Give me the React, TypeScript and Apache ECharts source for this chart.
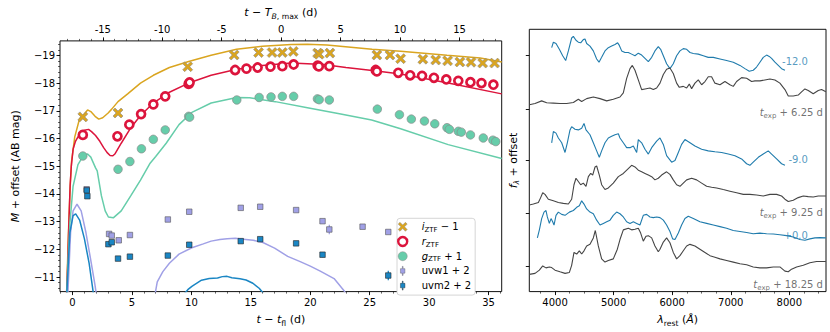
import React, { useEffect, useRef } from "react";
import * as echarts from "echarts";

const FONT = "DejaVu Sans";

// ---------- Left panel: light curves (t - t_fl [d], M + offset [AB mag]) ----------
const T_BMAX_OFFSET = 17.55; // t_fl -> T_B,max shift (d)

const iTime = [0.87, 3.83, 9.69, 13.6, 15.65, 16.79, 17.65, 18.57, 20.62, 20.75, 21.65, 25.6, 26.7, 27.6, 29.47, 30.55, 31.55, 32.58, 33.52, 34.5, 35.5];
const iMag = [-16.78, -16.92, -18.59, -19.01, -19.1, -19.1, -19.1, -19.14, -19.08, -19.04, -19.08, -19.01, -19.01, -18.88, -18.86, -18.83, -18.8, -18.76, -18.75, -18.72, -18.72];

const rTime = [0.87, 3.78, 4.78, 5.77, 6.8, 7.8, 9.77, 9.85, 13.68, 14.63, 15.57, 16.65, 17.65, 18.6, 20.62, 20.72, 21.6, 25.5, 25.6, 27.4, 28.4, 29.4, 30.4, 31.44, 32.45, 33.47, 34.4, 35.4];
const rMag = [-16.13, -16.08, -16.5, -16.88, -17.23, -17.52, -17.97, -18.02, -18.47, -18.52, -18.56, -18.59, -18.61, -18.67, -18.63, -18.6, -18.61, -18.47, -18.42, -18.37, -18.28, -18.26, -18.19, -18.13, -18.08, -18.03, -18.0, -17.94];

const gTime = [0.87, 3.83, 4.83, 5.8, 6.8, 7.8, 9.77, 9.85, 13.82, 15.7, 16.7, 17.65, 18.6, 20.6, 20.75, 21.6, 25.64, 27.5, 28.5, 29.6, 30.47, 31.5, 31.7, 32.45, 32.7, 33.47, 34.55, 35.36, 35.6];
const gMag = [-15.37, -14.89, -15.17, -15.63, -15.97, -16.31, -16.8, -16.77, -17.39, -17.48, -17.5, -17.52, -17.52, -17.43, -17.4, -17.39, -17.06, -16.86, -16.7, -16.63, -16.53, -16.39, -16.33, -16.26, -16.23, -16.13, -16.02, -15.94, -15.89];

const uvw1Time = [1.19, 3.08, 3.3, 3.89, 4.83, 8.02, 9.82, 14.15, 15.79, 18.81, 21.03, 21.6, 24.4, 26.56];
const uvw1Mag = [-14.17, -12.56, -12.5, -12.33, -12.52, -13.08, -13.36, -13.5, -13.54, -13.42, -13.02, -12.72, -12.82, -12.63];
const uvw1Err = [0.05, 0.08, 0.06, 0.05, 0.05, 0.05, 0.05, 0.05, 0.05, 0.05, 0.07, 0.17, 0.06, 0.06];

const uvm2Time = [1.2, 1.25, 3.02, 3.3, 3.83, 4.83, 8.02, 9.82, 14.15, 15.79, 18.81, 21.03, 26.56];
const uvm2Mag = [-14.13, -13.92, -12.19, -12.26, -11.67, -11.74, -11.78, -12.17, -12.3, -12.37, -12.22, -11.81, -11.06];
const uvm2Err = [0.06, 0.06, 0.08, 0.07, 0.08, 0.08, 0.08, 0.06, 0.06, 0.05, 0.08, 0.09, 0.17];

// model light curves
const iModel = [[-0.5, -10.3], [-0.35, -12.5], [-0.2, -14.2], [-0.08, -15.17], [0.19, -16.06], [0.6, -16.72], [1.0, -16.89], [1.27, -17.03], [1.54, -16.97], [1.9, -16.8], [2.21, -16.7], [2.54, -16.75], [3.0, -16.92], [3.3, -17.06], [3.83, -17.33], [4.64, -17.61], [5.72, -18.0], [6.8, -18.28], [8.15, -18.56], [9.77, -18.78], [11.66, -19.0], [13.8, -19.22], [15.97, -19.33], [18.4, -19.39], [19.76, -19.4], [21.4, -19.37], [25.2, -19.22], [27.6, -19.15], [31.5, -19.0], [34.3, -18.9], [36.1, -18.76]];
const rModel = [[-0.5, -10.4], [-0.4, -11.5], [-0.3, -13.0], [-0.2, -14.3], [-0.1, -15.0], [0.05, -15.61], [0.25, -15.9], [0.46, -16.06], [0.75, -16.22], [1.0, -16.3], [1.35, -16.33], [1.6, -16.25], [1.94, -16.11], [2.3, -15.9], [2.62, -15.67], [2.9, -15.5], [3.16, -15.39], [3.4, -15.38], [3.56, -15.44], [4.1, -15.83], [4.91, -16.39], [5.72, -16.83], [6.8, -17.28], [8.15, -17.67], [9.77, -18.0], [11.66, -18.28], [13.82, -18.5], [15.97, -18.63], [18.4, -18.72], [21.1, -18.67], [23.0, -18.56], [25.4, -18.44], [27.6, -18.33], [31.6, -18.0], [36.1, -17.61]];
const gModel = [[-0.5, -10.3], [-0.35, -11.8], [-0.22, -12.94], [0.05, -14.28], [0.46, -15.06], [0.8, -15.3], [1.1, -15.42], [1.27, -15.44], [1.54, -15.33], [1.94, -14.94], [2.08, -14.83], [2.43, -13.94], [2.75, -13.39], [3.02, -13.17], [3.43, -13.14], [4.1, -13.39], [4.91, -13.94], [5.72, -14.5], [6.53, -15.11], [7.0, -15.35], [7.88, -15.83], [8.96, -16.5], [10.04, -16.94], [11.66, -17.28], [13.82, -17.48], [14.9, -17.47], [17.06, -17.33], [19.76, -17.11], [22.45, -16.89], [25.16, -16.67], [27.6, -16.35], [31.6, -15.78], [36.1, -15.28]];
const uvw1ModelEarly = [[-0.4, -10.3], [-0.16, -12.61], [0.05, -13.39], [0.38, -13.63], [0.73, -13.39], [1.13, -12.61], [1.54, -11.61], [1.89, -10.72], [2.0, -10.4]];
const uvw1ModelLate = [[6.95, -10.4], [7.13, -10.83], [7.6, -11.2], [8.15, -11.5], [8.96, -11.83], [10.04, -12.06], [11.0, -12.2], [11.66, -12.3], [12.4, -12.36], [13.0, -12.39], [13.7, -12.4], [14.36, -12.37], [15.2, -12.33], [15.97, -12.26], [17.0, -12.05], [18.1, -11.75], [19.2, -11.55], [20.0, -11.4], [20.84, -11.22], [22.0, -10.95], [22.86, -10.5], [23.0, -10.4]];
const uvm2ModelEarly = [[-0.49, -10.3], [-0.22, -12.61], [0.05, -13.22], [0.27, -13.28], [0.6, -13.06], [1.0, -12.39], [1.4, -11.5], [1.73, -10.5], [1.78, -10.3]];
const uvm2ModelLate = [[9.4, -10.4], [9.7, -10.55], [10.04, -10.67], [10.85, -10.89], [11.5, -10.95], [12.2, -10.97], [12.6, -11.02], [13.0, -11.03], [13.4, -10.98], [14.09, -10.94], [14.6, -10.9], [15.17, -10.78], [15.7, -10.6], [16.1, -10.4]];

// ---------- Right panel: spectra (rest wavelength [A], f_lambda + offset, arbitrary units) ----------
const specM12 = [[3943, 755], [3972, 772], [4017, 768], [4074, 750], [4131, 730], [4182, 715], [4228, 745], [4284, 785], [4313, 790], [4358, 778], [4398, 772], [4438, 770], [4483, 780], [4512, 782], [4540, 768], [4597, 760], [4654, 745], [4711, 720], [4751, 710], [4796, 725], [4853, 745], [4910, 755], [4967, 760], [5024, 765], [5069, 770], [5098, 762], [5138, 745], [5194, 740], [5251, 740], [5308, 735], [5365, 730], [5422, 738], [5479, 732], [5536, 722], [5593, 712], [5650, 725], [5706, 745], [5763, 758], [5803, 750], [5849, 730], [5905, 705], [5962, 690], [6019, 705], [6076, 730], [6133, 745], [6190, 752], [6247, 750], [6304, 740], [6361, 737], [6446, 735], [6531, 730], [6616, 725], [6702, 725], [6816, 720], [6929, 715], [7043, 710], [7157, 700], [7242, 690], [7316, 682], [7384, 685], [7441, 695], [7498, 710], [7555, 725], [7612, 732], [7657, 728], [7697, 722], [7754, 710], [7811, 700], [7868, 690], [7925, 685]];
const specP625 = [[3562, 578], [3659, 582], [3772, 590], [3858, 584], [3972, 583], [4085, 582], [4199, 582], [4313, 585], [4398, 595], [4455, 588], [4540, 597], [4654, 602], [4768, 597], [4882, 590], [4995, 595], [5109, 602], [5166, 615], [5223, 660], [5280, 690], [5320, 700], [5365, 685], [5422, 655], [5479, 625], [5536, 627], [5621, 630], [5678, 625], [5735, 630], [5792, 645], [5849, 672], [5905, 688], [5962, 692], [6019, 675], [6076, 645], [6122, 632], [6190, 635], [6247, 630], [6292, 642], [6332, 628], [6389, 645], [6446, 655], [6503, 640], [6560, 650], [6616, 665], [6673, 665], [6730, 645], [6816, 640], [6901, 650], [6986, 640], [7043, 635], [7100, 650], [7185, 662], [7271, 660], [7356, 650], [7413, 652], [7498, 652], [7583, 655], [7669, 658], [7754, 655], [7839, 645], [7925, 625], [7982, 605], [8067, 605], [8152, 608], [8209, 618], [8266, 627], [8323, 622], [8408, 612], [8494, 622], [8550, 625], [8624, 618]];
const specM9 = [[3943, 460], [3972, 495], [4017, 490], [4057, 475], [4114, 460], [4171, 430], [4210, 460], [4256, 500], [4284, 510], [4341, 502], [4398, 500], [4455, 505], [4495, 520], [4529, 500], [4597, 485], [4654, 460], [4711, 435], [4756, 415], [4796, 435], [4853, 460], [4910, 475], [4967, 480], [5024, 485], [5081, 488], [5109, 475], [5166, 460], [5223, 445], [5280, 445], [5337, 450], [5394, 430], [5422, 470], [5479, 460], [5536, 440], [5593, 425], [5650, 445], [5735, 465], [5792, 475], [5849, 455], [5905, 420], [5991, 400], [6048, 405], [6105, 430], [6161, 455], [6218, 470], [6304, 460], [6389, 450], [6503, 440], [6616, 435], [6730, 432], [6844, 430], [6958, 425], [7072, 420], [7185, 410], [7271, 395], [7327, 390], [7384, 400], [7470, 415], [7555, 425], [7640, 435], [7697, 425], [7783, 410], [7868, 395], [7925, 390]];
const specP925 = [[3562, 267], [3630, 270], [3716, 275], [3755, 290], [3790, 305], [3829, 300], [3886, 285], [3972, 280], [4057, 275], [4142, 272], [4228, 270], [4284, 285], [4324, 330], [4358, 350], [4398, 340], [4438, 330], [4483, 335], [4529, 325], [4569, 355], [4609, 365], [4643, 360], [4683, 385], [4711, 388], [4756, 360], [4796, 330], [4853, 315], [4910, 320], [4995, 335], [5081, 355], [5166, 365], [5251, 380], [5308, 390], [5365, 385], [5422, 375], [5479, 370], [5536, 365], [5593, 360], [5650, 355], [5706, 345], [5763, 350], [5820, 360], [5905, 370], [5962, 362], [6019, 345], [6076, 330], [6133, 325], [6190, 335], [6247, 345], [6332, 350], [6417, 345], [6503, 335], [6588, 325], [6673, 322], [6759, 320], [6872, 315], [6986, 310], [7100, 305], [7214, 300], [7327, 300], [7441, 298], [7555, 295], [7669, 300], [7783, 300], [7868, 295], [7925, 285], [7982, 278], [8067, 282], [8152, 290], [8238, 295], [8323, 293], [8408, 292], [8494, 295], [8624, 295]];
const specP0 = [[3699, 165], [3733, 190], [3772, 225], [3812, 245], [3846, 250], [3869, 230], [3903, 210], [3932, 225], [3960, 215], [3983, 205], [4017, 235], [4057, 245], [4114, 238], [4171, 235], [4245, 245], [4313, 250], [4370, 260], [4415, 265], [4455, 280], [4495, 270], [4540, 255], [4597, 245], [4654, 240], [4711, 220], [4768, 205], [4825, 210], [4882, 215], [4939, 220], [4995, 235], [5052, 245], [5109, 240], [5166, 230], [5223, 215], [5280, 210], [5337, 215], [5394, 210], [5450, 205], [5507, 235], [5564, 238], [5621, 230], [5678, 228], [5735, 230], [5792, 228], [5849, 220], [5905, 205], [5962, 185], [6008, 162], [6048, 160], [6105, 180], [6161, 205], [6218, 225], [6275, 232], [6361, 225], [6474, 215], [6588, 210], [6702, 205], [6816, 200], [6929, 195], [7043, 188], [7157, 185], [7271, 182], [7384, 178], [7498, 180], [7612, 178], [7726, 177], [7839, 175], [7953, 172], [8067, 168], [8181, 160], [8266, 158], [8351, 162], [8437, 165], [8522, 166], [8624, 165]];
const specP1825 = [[3562, 52], [3659, 55], [3733, 65], [3790, 78], [3846, 72], [3903, 75], [3943, 73], [4000, 65], [4085, 60], [4171, 55], [4245, 58], [4284, 80], [4324, 120], [4370, 115], [4415, 125], [4455, 115], [4495, 125], [4540, 140], [4597, 145], [4654, 165], [4688, 188], [4739, 140], [4796, 100], [4853, 90], [4910, 95], [4995, 100], [5064, 130], [5109, 160], [5166, 190], [5251, 195], [5308, 190], [5365, 192], [5422, 195], [5462, 180], [5507, 155], [5553, 170], [5593, 172], [5650, 165], [5706, 140], [5763, 122], [5792, 130], [5849, 152], [5905, 165], [5962, 150], [6019, 120], [6076, 100], [6133, 110], [6190, 125], [6247, 140], [6304, 145], [6389, 140], [6474, 130], [6560, 120], [6645, 110], [6730, 105], [6816, 100], [6929, 95], [7043, 90], [7157, 85], [7271, 82], [7384, 75], [7498, 72], [7612, 72], [7726, 75], [7839, 75], [7925, 62], [7982, 60], [8038, 68], [8124, 75], [8238, 80], [8351, 88], [8465, 92], [8624, 92]];

const specLabelText = ["-12.0", "{it|t}{sub|exp}{n| + 6.25 d}", "-9.0", "{it|t}{sub|exp}{n| + 9.25 d}", "+0.0", "{it|t}{sub|exp}{n| + 18.25 d}"];
const specLabelWave = [8317, 8573, 8317, 8573, 8317, 8573];
const specLabelFlux = [718, 561, 414, 250, 180, 28];

// ---------- Tick values ----------
const tflTicks = [0, 5, 10, 15, 20, 25, 30, 35];
const tBmaxTicks = [-15, -10, -5, 0, 5, 10, 15];
const magTicks = [-19, -18, -17, -16, -15, -14, -13, -12, -11];
const waveTicks = [4000, 5000, 6000, 7000, 8000];
const fluxTicks = [78, 240, 405, 565, 732];

// ---------- Colors ----------
const C_I = "#DAA520";
const C_R = "#DC143C";
const C_G = "#66CDAA";
const C_W1 = "#A0A0E6";
const C_M2 = "#1A86C4";
const C_SPEC_BLUE = "#1f7bac";
const C_SPEC_GREY = "#454545";

const X_PATH = "path://M0,2L2,0L5,3L8,0L10,2L7,5L10,8L8,10L5,7L2,10L0,8L3,5Z";
const UV_PATH = "path://M5.4,0H6.6V3.5H9.5V10.5H6.6V14H5.4V10.5H2.5V3.5H5.4Z";

function steps(from: number, to: number, step: number) {
  const out: number[] = [];
  for (let k = 0; from + k * step <= to + 1e-9; k++) out.push(+(from + k * step).toFixed(4));
  return out;
}

const richBase = (size: number, color: string) => ({
  it: { fontStyle: "italic", fontFamily: FONT, fontSize: size, color },
  n: { fontFamily: FONT, fontSize: size, color },
  sub: { fontFamily: FONT, fontSize: size * 0.7, color, verticalAlign: "bottom", lineHeight: 10 },
  subit: { fontFamily: FONT, fontSize: size * 0.7, color, fontStyle: "italic", verticalAlign: "bottom", lineHeight: 10 },
});

const nameStyle = { fontFamily: FONT, fontSize: 11, color: "#000", lineHeight: 15, rich: richBase(11, "#000") };
const tickLabel = { fontFamily: FONT, fontSize: 10, color: "#000" };
const majorTick = (vals: number[]) => ({ show: true, customValues: vals, length: 3.5, lineStyle: { color: "#000", width: 0.9 } });
const minorTick = (vals: number[]) => ({ show: true, customValues: vals, length: 2, lineStyle: { color: "#000", width: 0.6 } });
const noLine = { show: false, onZero: false };

function errorBarSeries(time: number[], mag: number[], err: number[], color: string) {
  return {
    type: "custom",
    xAxisIndex: 0,
    yAxisIndex: 0,
    silent: true,
    z: 3,
    data: time.map((t, k) => [t, mag[k], err[k]]),
    renderItem: (_p: any, api: any) => {
      const t = api.value(0), m = api.value(1), e = api.value(2);
      const a = api.coord([t, m - e]);
      const b = api.coord([t, m + e]);
      return { type: "line", shape: { x1: a[0], y1: a[1], x2: b[0], y2: b[1] }, style: { stroke: color, lineWidth: 1.3 } };
    },
  };
}

function modelSeries(data: number[][], color: string, width = 1.5) {
  return {
    type: "line",
    xAxisIndex: 0,
    yAxisIndex: 0,
    data,
    showSymbol: false,
    symbol: "none",
    silent: true,
    z: 1,
    lineStyle: { color, width },
  };
}

function specSeries(data: number[][], color: string) {
  return {
    type: "line",
    xAxisIndex: 4,
    yAxisIndex: 2,
    data,
    showSymbol: false,
    symbol: "none",
    silent: true,
    lineStyle: { color, width: 1.1 },
  };
}

const legendText: Record<string, string> = {
  iZTF: "{it|i}{sub|ZTF}{n| − 1}",
  rZTF: "{it|r}{sub|ZTF}",
  gZTF: "{it|g}{sub|ZTF}{n| + 1}",
  uvw1: "{n|uvw1 + 2}",
  uvm2: "{n|uvm2 + 2}",
};

export default function App() {
  const ref = useRef<HTMLDivElement>(null);

  useEffect(() => {
    if (!ref.current) return;
    const chart = echarts.init(ref.current, undefined, { renderer: "svg" });

    const option: any = {
      animation: false,
      backgroundColor: "#fff",
      textStyle: { fontFamily: FONT },
      grid: [
        { left: 43.3, top: 29.3, width: 458.4, height: 271.4, show: true, borderColor: "#111", borderWidth: 1, backgroundColor: "transparent" },
        { left: 529.3, top: 29.3, width: 296.7, height: 271.2, show: true, borderColor: "#111", borderWidth: 1, backgroundColor: "transparent" },
      ],
      xAxis: [
        {
          gridIndex: 0, type: "value", position: "bottom", min: -1.05, max: 36.1,
          axisLine: noLine, splitLine: { show: false },
          axisTick: majorTick(tflTicks),
          axisLabel: { ...tickLabel, customValues: tflTicks, margin: 5.5, formatter: (v: number) => String(v) },
          name: "{it|t} − {it|t}{sub|fl} (d)", nameLocation: "middle", nameGap: 15.3, nameTextStyle: nameStyle,
        },
        {
          gridIndex: 0, type: "value", position: "bottom", min: -1.05, max: 36.1,
          axisLine: noLine, splitLine: { show: false }, axisLabel: { show: false },
          axisTick: minorTick(steps(-1, 36, 1)),
        },
        {
          gridIndex: 0, type: "value", position: "top", min: -1.05 - T_BMAX_OFFSET, max: 36.1 - T_BMAX_OFFSET,
          axisLine: noLine, splitLine: { show: false },
          axisTick: majorTick(tBmaxTicks),
          axisLabel: { ...tickLabel, customValues: tBmaxTicks, margin: 6, formatter: (v: number) => String(v) },
          name: "{it|t} − {it|T}{subit|B}{sub|, max} (d)", nameLocation: "middle", nameGap: 13.8, nameTextStyle: nameStyle,
        },
        {
          gridIndex: 0, type: "value", position: "top", min: -1.05 - T_BMAX_OFFSET, max: 36.1 - T_BMAX_OFFSET,
          axisLine: noLine, splitLine: { show: false }, axisLabel: { show: false },
          axisTick: minorTick(steps(-18, 18, 1)),
        },
        {
          gridIndex: 1, type: "value", position: "bottom", min: 3561, max: 8626,
          axisLine: noLine, splitLine: { show: false },
          axisTick: majorTick(waveTicks),
          axisLabel: { ...tickLabel, customValues: waveTicks, margin: 5.5, formatter: (v: number) => String(v) },
          name: "{it|λ}{sub|rest} ({it|Å})", nameLocation: "middle", nameGap: 15, nameTextStyle: nameStyle,
        },
        {
          gridIndex: 1, type: "value", position: "bottom", min: 3561, max: 8626,
          axisLine: noLine, splitLine: { show: false }, axisLabel: { show: false },
          axisTick: minorTick(steps(3750, 8500, 250)),
        },
      ],
      yAxis: [
        {
          gridIndex: 0, type: "value", position: "left", inverse: true, min: -19.52, max: -10.48,
          axisLine: noLine, splitLine: { show: false },
          axisTick: majorTick(magTicks),
          axisLabel: { ...tickLabel, customValues: magTicks, margin: 5, formatter: (v: number) => (v < 0 ? "−" + Math.abs(v) : String(v)) },
          name: "{it|M} + offset (AB mag)", nameLocation: "middle", nameGap: 25.8, nameTextStyle: nameStyle,
        },
        {
          gridIndex: 0, type: "value", position: "left", inverse: true, min: -19.52, max: -10.48,
          axisLine: noLine, splitLine: { show: false }, axisLabel: { show: false },
          axisTick: minorTick(steps(-19.4, -10.6, 0.2)),
        },
        {
          gridIndex: 1, type: "value", position: "left", min: -1.5, max: 812,
          axisLine: noLine, splitLine: { show: false },
          axisTick: majorTick(fluxTicks),
          axisLabel: { show: false },
          name: "{it|f}{subit|λ} + offset", nameLocation: "middle", nameGap: 8.8, nameTextStyle: nameStyle,
        },
      ],
      legend: {
        left: 397, top: 218.3, orient: "vertical",
        padding: [2, 4, 3, 0], itemGap: 1.7, itemWidth: 28, itemHeight: 9,
        backgroundColor: "#fff", borderColor: "#cccccc", borderWidth: 0.8, borderRadius: 3,
        selectedMode: false,
        textStyle: { fontFamily: FONT, fontSize: 10, color: "#000", lineHeight: 13, rich: richBase(10, "#000") },
        formatter: (n: string) => legendText[n] ?? n,
        data: [
          { name: "iZTF", icon: X_PATH, itemStyle: { color: C_I, borderColor: "#8a8a8a", borderWidth: 0.5 } },
          { name: "rZTF", icon: "circle", itemStyle: { color: "#fff", borderColor: C_R, borderWidth: 2.4 } },
          { name: "gZTF", icon: "circle", itemStyle: { color: C_G, borderColor: "#8a8a8a", borderWidth: 0.5 } },
          { name: "uvw1", icon: UV_PATH, itemStyle: { color: C_W1, borderColor: "#555", borderWidth: 0.4 } },
          { name: "uvm2", icon: UV_PATH, itemStyle: { color: C_M2, borderColor: "#222", borderWidth: 0.4 } },
        ],
      },
      series: [
        modelSeries(iModel, C_I),
        modelSeries(rModel, C_R),
        modelSeries(gModel, C_G),
        modelSeries(uvw1ModelEarly, C_W1),
        modelSeries(uvw1ModelLate, C_W1),
        modelSeries(uvm2ModelEarly, C_M2),
        modelSeries(uvm2ModelLate, C_M2),
        errorBarSeries(uvw1Time, uvw1Mag, uvw1Err, C_W1),
        errorBarSeries(uvm2Time, uvm2Mag, uvm2Err, C_M2),
        {
          name: "iZTF", type: "scatter", xAxisIndex: 0, yAxisIndex: 0, z: 4, silent: true,
          symbol: X_PATH, symbolSize: 10,
          itemStyle: { color: C_I, borderColor: "#8a8a8a", borderWidth: 0.6, opacity: 1 },
          data: iTime.map((t, k) => [t, iMag[k]]),
        },
        {
          name: "rZTF", type: "scatter", xAxisIndex: 0, yAxisIndex: 0, z: 4, silent: true,
          symbol: "circle", symbolSize: 8,
          itemStyle: { color: "#fff", borderColor: C_R, borderWidth: 2.7, opacity: 1 },
          data: rTime.map((t, k) => [t, rMag[k]]),
        },
        {
          name: "gZTF", type: "scatter", xAxisIndex: 0, yAxisIndex: 0, z: 4, silent: true,
          symbol: "circle", symbolSize: 8.5,
          itemStyle: { color: C_G, borderColor: "#8a8a8a", borderWidth: 0.7, opacity: 1 },
          data: gTime.map((t, k) => [t, gMag[k]]),
        },
        {
          name: "uvw1", type: "scatter", xAxisIndex: 0, yAxisIndex: 0, z: 4, silent: true,
          symbol: "rect", symbolSize: 5.5,
          itemStyle: { color: C_W1, borderColor: "#555", borderWidth: 0.6, opacity: 1 },
          data: uvw1Time.map((t, k) => [t, uvw1Mag[k]]),
        },
        {
          name: "uvm2", type: "scatter", xAxisIndex: 0, yAxisIndex: 0, z: 4, silent: true,
          symbol: "rect", symbolSize: 5.5,
          itemStyle: { color: C_M2, borderColor: "#222", borderWidth: 0.6, opacity: 1 },
          data: uvm2Time.map((t, k) => [t, uvm2Mag[k]]),
        },
        specSeries(specM12, C_SPEC_BLUE),
        specSeries(specP625, C_SPEC_GREY),
        specSeries(specM9, C_SPEC_BLUE),
        specSeries(specP925, C_SPEC_GREY),
        specSeries(specP0, C_SPEC_BLUE),
        specSeries(specP1825, C_SPEC_GREY),
        {
          type: "scatter", xAxisIndex: 4, yAxisIndex: 2, silent: true, symbolSize: 0, z: 5,
          data: specLabelText.map((txt, k) => {
            const col = txt.startsWith("{") ? "#4d4d4d" : "#2a7fb0";
            return {
              value: [specLabelWave[k], specLabelFlux[k]],
              label: {
                show: true, position: "left", distance: 0, offset: [0, 2],
                formatter: txt.startsWith("{") ? txt : "{n|" + txt + "}",
                color: col, fontFamily: FONT, fontSize: 10, lineHeight: 14,
                rich: richBase(10, col),
              },
            };
          }),
        },
      ],
    };

    chart.setOption(option);
    return () => chart.dispose();
  }, []);

  return <div ref={ref} style={{ position: "fixed", left: 0, top: 0, width: 830, height: 332 }} />;
}
